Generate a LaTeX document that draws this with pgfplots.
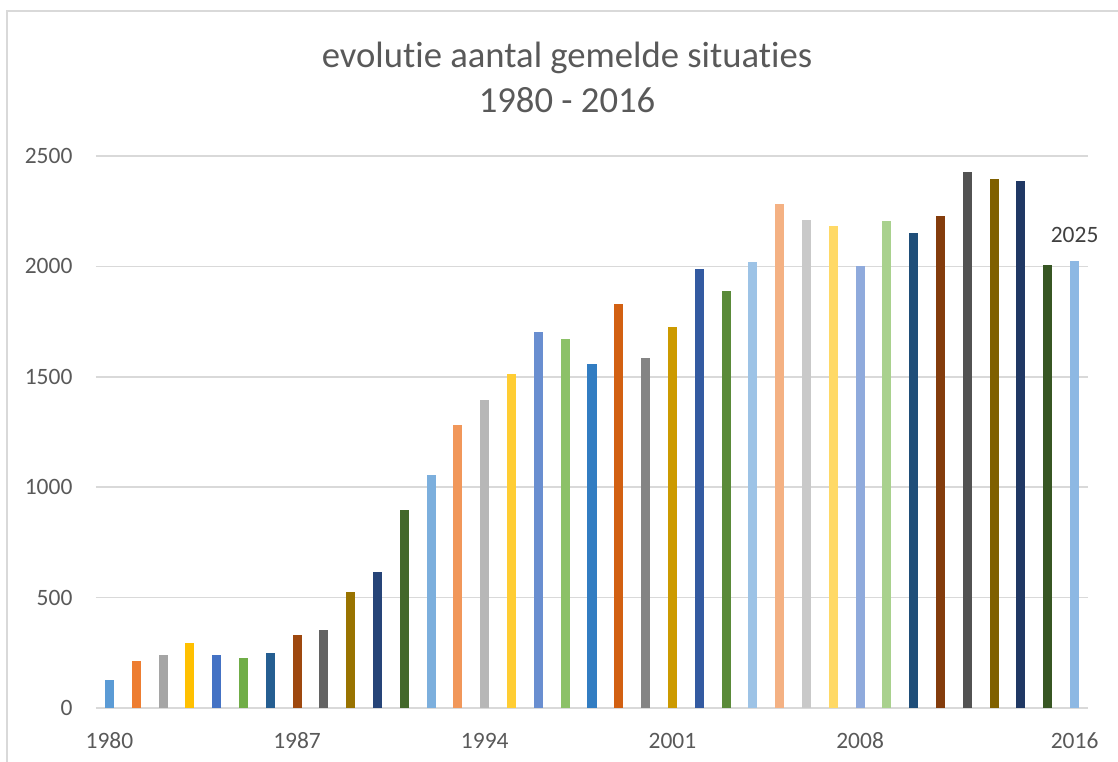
\documentclass[border=0pt]{standalone}
\usepackage{pgfplots}
\pgfplotsset{compat=1.18}
\usepackage{fontspec}
\setmainfont{Carlito}[Ligatures={NoCommon}]
\definecolor{txt}{HTML}{595959}
\definecolor{grd}{HTML}{D9D9D9}
\definecolor{c1980}{HTML}{5B9BD5}\definecolor{c1981}{HTML}{ED7D31}\definecolor{c1982}{HTML}{A5A5A5}
\definecolor{c1983}{HTML}{FFC000}\definecolor{c1984}{HTML}{4472C4}\definecolor{c1985}{HTML}{70AD47}
\definecolor{c1986}{HTML}{255E91}\definecolor{c1987}{HTML}{9E480E}\definecolor{c1988}{HTML}{636363}
\definecolor{c1989}{HTML}{997300}\definecolor{c1990}{HTML}{264478}\definecolor{c1991}{HTML}{43682B}
\definecolor{c1992}{HTML}{7CAFDD}\definecolor{c1993}{HTML}{F1975A}\definecolor{c1994}{HTML}{B7B7B7}
\definecolor{c1995}{HTML}{FFCD33}\definecolor{c1996}{HTML}{698ED0}\definecolor{c1997}{HTML}{8CC168}
\definecolor{c1998}{HTML}{327DC2}\definecolor{c1999}{HTML}{D26012}\definecolor{c2000}{HTML}{848484}
\definecolor{c2001}{HTML}{CC9A00}\definecolor{c2002}{HTML}{335AA1}\definecolor{c2003}{HTML}{5A8A39}
\definecolor{c2004}{HTML}{9DC3E6}\definecolor{c2005}{HTML}{F4B183}\definecolor{c2006}{HTML}{C9C9C9}
\definecolor{c2007}{HTML}{FFD966}\definecolor{c2008}{HTML}{8FAADC}\definecolor{c2009}{HTML}{A9D18E}
\definecolor{c2010}{HTML}{1F4E79}\definecolor{c2011}{HTML}{843C0C}\definecolor{c2012}{HTML}{525252}
\definecolor{c2013}{HTML}{7F6000}\definecolor{c2014}{HTML}{203864}\definecolor{c2015}{HTML}{375623}
\definecolor{c2016}{HTML}{8DB8E3}
\begin{document}
\begin{tikzpicture}
\useasboundingbox (-72pt,-39.75pt) rectangle (766.5pt,531pt);
\draw[grd, line width=1.1pt] (-66.75pt,-60pt) -- (-66.75pt,522.75pt) -- (800pt,522.75pt);
\node[anchor=base, text=txt, font=\fontsize{27.5}{33}\selectfont] at (353.25pt,480pt) {evolutie aantal gemelde situaties};
\node[anchor=base, text=txt, font=\fontsize{27.5}{33}\selectfont] at (353.25pt,446.25pt) {1980 - 2016};
\begin{axis}[
  at={(0,0)}, anchor=south west,
  scale only axis, width=744pt, height=414pt,
  ybar, bar shift=0pt, bar width=0.336,
  xmin=1979.5, xmax=2016.5, ymin=0, ymax=2500,
  xtick={1980,1987,1994,2001,2008,2016},
  ytick={0,500,1000,1500,2000,2500},
  /pgf/number format/1000 sep={},
  /pgf/number format/assume math mode=true,
  axis line style={draw=none},
  major tick length=0pt,
  ymajorgrids, grid style={grd, line width=1.2pt},
  tick label style={text=txt, font=\fontsize{17.6}{21}\selectfont},
  xticklabel style={anchor=base, inner sep=0pt, yshift=-30pt},
  yticklabel style={anchor=east, inner sep=0pt, xshift=-17.5pt},
  clip=false,
]
\addplot[fill=c1980, draw=none] coordinates {(1980,127)};
\addplot[fill=c1981, draw=none] coordinates {(1981,213)};
\addplot[fill=c1982, draw=none] coordinates {(1982,240)};
\addplot[fill=c1983, draw=none] coordinates {(1983,294)};
\addplot[fill=c1984, draw=none] coordinates {(1984,240)};
\addplot[fill=c1985, draw=none] coordinates {(1985,226)};
\addplot[fill=c1986, draw=none] coordinates {(1986,249)};
\addplot[fill=c1987, draw=none] coordinates {(1987,331)};
\addplot[fill=c1988, draw=none] coordinates {(1988,353)};
\addplot[fill=c1989, draw=none] coordinates {(1989,526)};
\addplot[fill=c1990, draw=none] coordinates {(1990,616)};
\addplot[fill=c1991, draw=none] coordinates {(1991,895)};
\addplot[fill=c1992, draw=none] coordinates {(1992,1054)};
\addplot[fill=c1993, draw=none] coordinates {(1993,1280)};
\addplot[fill=c1994, draw=none] coordinates {(1994,1394)};
\addplot[fill=c1995, draw=none] coordinates {(1995,1512)};
\addplot[fill=c1996, draw=none] coordinates {(1996,1702)};
\addplot[fill=c1997, draw=none] coordinates {(1997,1671)};
\addplot[fill=c1998, draw=none] coordinates {(1998,1557)};
\addplot[fill=c1999, draw=none] coordinates {(1999,1829)};
\addplot[fill=c2000, draw=none] coordinates {(2000,1585)};
\addplot[fill=c2001, draw=none] coordinates {(2001,1725)};
\addplot[fill=c2002, draw=none] coordinates {(2002,1986)};
\addplot[fill=c2003, draw=none] coordinates {(2003,1887)};
\addplot[fill=c2004, draw=none] coordinates {(2004,2018)};
\addplot[fill=c2005, draw=none] coordinates {(2005,2281)};
\addplot[fill=c2006, draw=none] coordinates {(2006,2208)};
\addplot[fill=c2007, draw=none] coordinates {(2007,2181)};
\addplot[fill=c2008, draw=none] coordinates {(2008,2000)};
\addplot[fill=c2009, draw=none] coordinates {(2009,2204)};
\addplot[fill=c2010, draw=none] coordinates {(2010,2150)};
\addplot[fill=c2011, draw=none] coordinates {(2011,2227)};
\addplot[fill=c2012, draw=none] coordinates {(2012,2426)};
\addplot[fill=c2013, draw=none] coordinates {(2013,2394)};
\addplot[fill=c2014, draw=none] coordinates {(2014,2385)};
\addplot[fill=c2015, draw=none] coordinates {(2015,2005)};
\addplot[fill=c2016, draw=none, nodes near coords,
  every node near coord/.append style={anchor=base, inner sep=0pt, yshift=13.5pt, text=black!75, font=\fontsize{17.6}{21}\selectfont}]
  coordinates {(2016,2025)};
\end{axis}
\end{tikzpicture}
\end{document}
